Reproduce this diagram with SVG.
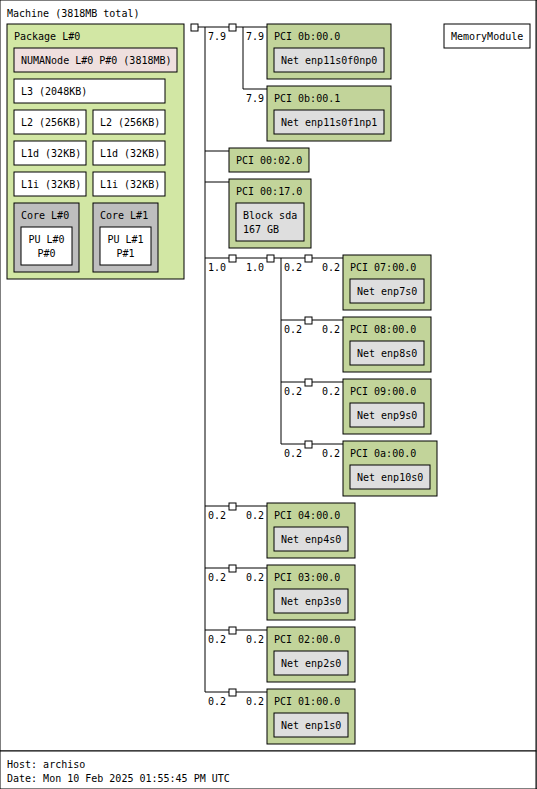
<svg xmlns="http://www.w3.org/2000/svg" width="537" height="789" viewBox="0 0 537 789">
<style>
text{font-family:"DejaVu Sans Mono","Liberation Mono",monospace;font-size:10px;fill:#000}
rect{stroke:#000;stroke-width:1}
.mach{fill:#fff}
.pkg{fill:#d2e7a4}
.numa{fill:#efdfde}
.cache{fill:#fff}
.core{fill:#bebebe}
.pu{fill:#fff}
.pci{fill:#c2d49a}
.os{fill:#dedede}
.mem{fill:#fff}
.br{fill:#fff}
.c line{stroke:#000;stroke-width:1}
.m{text-anchor:middle}
</style>
<rect width="537" height="789" fill="#fff" stroke="none"/>
<g id="machine">
<rect class="mach" x="0" y="0" width="536" height="751"/>
<text x="7" y="17">Machine (3818MB total)</text>
</g>
<g id="package">
<rect class="pkg" x="7" y="24" width="177" height="255"/>
<text x="14" y="40">Package L#0</text>
</g>
<g id="numa">
<rect class="numa" x="14" y="48" width="163" height="24"/>
<text x="21" y="64">NUMANode L#0 P#0 (3818MB)</text>
</g>
<g id="l3">
<rect class="cache" x="14" y="79" width="151" height="24"/>
<text x="21" y="95">L3 (2048KB)</text>
</g>
<g id="l2-0"><rect class="cache" x="14" y="110" width="72" height="24"/><text x="21" y="126">L2 (256KB)</text></g>
<g id="l2-1"><rect class="cache" x="93" y="110" width="72" height="24"/><text x="100" y="126">L2 (256KB)</text></g>
<g id="l1d-0"><rect class="cache" x="14" y="141" width="72" height="24"/><text x="21" y="157">L1d (32KB)</text></g>
<g id="l1d-1"><rect class="cache" x="93" y="141" width="72" height="24"/><text x="100" y="157">L1d (32KB)</text></g>
<g id="l1i-0"><rect class="cache" x="14" y="172" width="72" height="24"/><text x="21" y="188">L1i (32KB)</text></g>
<g id="l1i-1"><rect class="cache" x="93" y="172" width="72" height="24"/><text x="100" y="188">L1i (32KB)</text></g>
<g id="core-0"><rect class="core" x="14" y="203" width="65" height="69"/><text x="21" y="219">Core L#0</text></g>
<g id="core-1"><rect class="core" x="93" y="203" width="65" height="69"/><text x="100" y="219">Core L#1</text></g>
<g id="pu-0"><rect class="pu" x="21" y="227" width="51" height="38"/><text class="m" x="46.5" y="243">PU L#0</text><text class="m" x="46.5" y="257">P#0</text></g>
<g id="pu-1"><rect class="pu" x="100" y="227" width="51" height="38"/><text class="m" x="125.5" y="243">PU L#1</text><text class="m" x="125.5" y="257">P#1</text></g>

<g id="connectors" class="c">
<line x1="198" y1="27" x2="229" y2="27"/>
<line x1="205" y1="27" x2="205" y2="692"/>
<line x1="236" y1="27" x2="267" y2="27"/>
<line x1="243" y1="27" x2="243" y2="89"/>
<line x1="243" y1="89" x2="267" y2="89"/>
<line x1="205" y1="151" x2="229" y2="151"/>
<line x1="205" y1="182" x2="229" y2="182"/>
<line x1="205" y1="258" x2="343" y2="258"/>
<line x1="281" y1="258" x2="281" y2="444"/>
<line x1="281" y1="320" x2="343" y2="320"/>
<line x1="281" y1="382" x2="343" y2="382"/>
<line x1="281" y1="444" x2="343" y2="444"/>
<line x1="205" y1="506" x2="267" y2="506"/>
<line x1="205" y1="568" x2="267" y2="568"/>
<line x1="205" y1="630" x2="267" y2="630"/>
<line x1="205" y1="692" x2="267" y2="692"/>
</g>

<g id="hostbridge"><rect class="br" x="191" y="24" width="7" height="7"/></g>
<g id="bridge-0b"><rect class="br" x="229" y="24" width="7" height="7"/>
<text x="208" y="40">7.9</text><text x="246" y="40">7.9</text><text x="246" y="102">7.9</text></g>
<g id="bridge-a"><rect class="br" x="229" y="255" width="7" height="7"/><text x="208" y="271">1.0</text><text x="246" y="271">1.0</text></g>
<g id="bridge-b"><rect class="br" x="267" y="255" width="7" height="7"/></g>
<g id="bridge-07"><rect class="br" x="305" y="255" width="7" height="7"/><text x="284" y="271">0.2</text><text x="322" y="271">0.2</text></g>
<g id="bridge-08"><rect class="br" x="305" y="317" width="7" height="7"/><text x="284" y="333">0.2</text><text x="322" y="333">0.2</text></g>
<g id="bridge-09"><rect class="br" x="305" y="379" width="7" height="7"/><text x="284" y="395">0.2</text><text x="322" y="395">0.2</text></g>
<g id="bridge-0a"><rect class="br" x="305" y="441" width="7" height="7"/><text x="284" y="457">0.2</text><text x="322" y="457">0.2</text></g>
<g id="bridge-04"><rect class="br" x="229" y="503" width="7" height="7"/><text x="208" y="519">0.2</text><text x="246" y="519">0.2</text></g>
<g id="bridge-03"><rect class="br" x="229" y="565" width="7" height="7"/><text x="208" y="581">0.2</text><text x="246" y="581">0.2</text></g>
<g id="bridge-02"><rect class="br" x="229" y="627" width="7" height="7"/><text x="208" y="643">0.2</text><text x="246" y="643">0.2</text></g>
<g id="bridge-01"><rect class="br" x="229" y="689" width="7" height="7"/><text x="208" y="705">0.2</text><text x="246" y="705">0.2</text></g>

<g id="pci-0b-00-0"><rect class="pci" x="267" y="24" width="124" height="55"/><text x="274" y="40">PCI 0b:00.0</text>
<rect class="os" x="274" y="48" width="110" height="24"/><text x="281" y="64">Net enp11s0f0np0</text></g>
<g id="pci-0b-00-1"><rect class="pci" x="267" y="86" width="124" height="55"/><text x="274" y="102">PCI 0b:00.1</text>
<rect class="os" x="274" y="110" width="110" height="24"/><text x="281" y="126">Net enp11s0f1np1</text></g>
<g id="pci-00-02-0"><rect class="pci" x="229" y="148" width="80" height="24"/><text x="236" y="164">PCI 00:02.0</text></g>
<g id="pci-00-17-0"><rect class="pci" x="229" y="179" width="82" height="69"/><text x="236" y="195">PCI 00:17.0</text>
<rect class="os" x="236" y="203" width="68" height="38"/><text x="243" y="219">Block sda</text><text x="243" y="233">167 GB</text></g>
<g id="pci-07"><rect class="pci" x="343" y="255" width="88" height="55"/><text x="350" y="271">PCI 07:00.0</text>
<rect class="os" x="350" y="279" width="74" height="24"/><text x="357" y="295">Net enp7s0</text></g>
<g id="pci-08"><rect class="pci" x="343" y="317" width="88" height="55"/><text x="350" y="333">PCI 08:00.0</text>
<rect class="os" x="350" y="341" width="74" height="24"/><text x="357" y="357">Net enp8s0</text></g>
<g id="pci-09"><rect class="pci" x="343" y="379" width="88" height="55"/><text x="350" y="395">PCI 09:00.0</text>
<rect class="os" x="350" y="403" width="74" height="24"/><text x="357" y="419">Net enp9s0</text></g>
<g id="pci-0a"><rect class="pci" x="343" y="441" width="94" height="55"/><text x="350" y="457">PCI 0a:00.0</text>
<rect class="os" x="350" y="465" width="80" height="24"/><text x="357" y="481">Net enp10s0</text></g>
<g id="pci-04"><rect class="pci" x="267" y="503" width="88" height="55"/><text x="274" y="519">PCI 04:00.0</text>
<rect class="os" x="274" y="527" width="74" height="24"/><text x="281" y="543">Net enp4s0</text></g>
<g id="pci-03"><rect class="pci" x="267" y="565" width="88" height="55"/><text x="274" y="581">PCI 03:00.0</text>
<rect class="os" x="274" y="589" width="74" height="24"/><text x="281" y="605">Net enp3s0</text></g>
<g id="pci-02"><rect class="pci" x="267" y="627" width="88" height="55"/><text x="274" y="643">PCI 02:00.0</text>
<rect class="os" x="274" y="651" width="74" height="24"/><text x="281" y="667">Net enp2s0</text></g>
<g id="pci-01"><rect class="pci" x="267" y="689" width="88" height="55"/><text x="274" y="705">PCI 01:00.0</text>
<rect class="os" x="274" y="713" width="74" height="24"/><text x="281" y="729">Net enp1s0</text></g>
<g id="memorymodule"><rect class="mem" x="444" y="24" width="86" height="24"/><text x="451" y="40">MemoryModule</text></g>
<g id="legend">
<rect fill="#fff" x="0" y="751" width="536" height="38"/>
<text x="7" y="768">Host: archiso</text>
<text x="7" y="782">Date: Mon 10 Feb 2025 01:55:45 PM UTC</text>
</g>
</svg>
